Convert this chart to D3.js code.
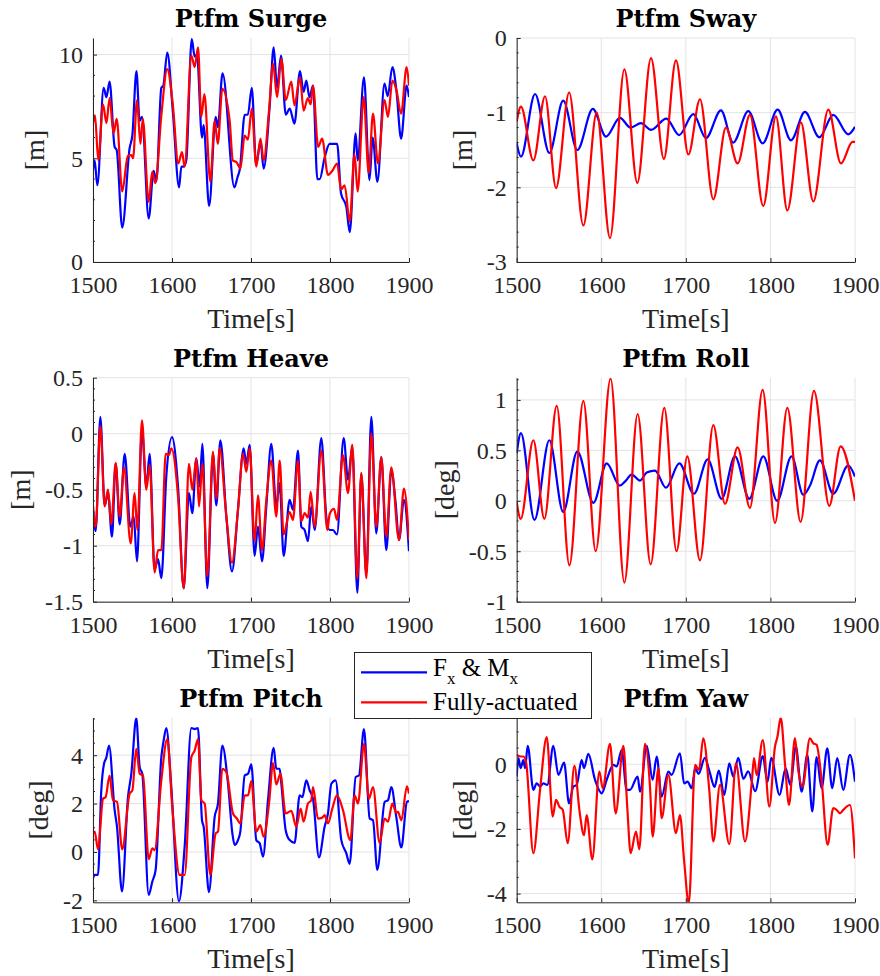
<!DOCTYPE html>
<html>
<head>
<meta charset="utf-8">
<script src="https://cdnjs.cloudflare.com/ajax/libs/d3/7.8.5/d3.min.js"></script>
<style>
body { margin: 0; background: #fff; }
</style>
</head>
<body>
<script>
// time axis ticks, shared by all panels
var xTicks = [1500, 1600, 1700, 1800, 1900];

// values: [time, value], F_x & M_x (blue) and fully-actuated (red)
var surgeFx = [[1500,4.43],[1502,4.9],[1505.5,3.7],[1513.5,8.4],[1517,7.95],[1521,8.7],[1527.4,5.55],[1530,5.4],[1537,1.66],[1546.4,5.5],[1549.8,6.1],[1555,9.2],[1559,6.8],[1562,7.0],[1570.5,2.1],[1576.8,4.4],[1580.2,3.9],[1586.5,8.4],[1589,8.5],[1594,10.1],[1601,7.3],[1609,3.6],[1611.8,4.6],[1614.8,4.6],[1618.1,4.9],[1625,10.75],[1628.7,9.9],[1631.6,10.0],[1638,6.0],[1640,6.6],[1647,2.7],[1655.3,7.0],[1658,6.5],[1664,9.1],[1679,3.6],[1683,4.1],[1686,4.5],[1692,7.1],[1696,7.1],[1701,8.4],[1706.5,4.7],[1712,5.8],[1716,4.5],[1723.6,7.5],[1728.7,10.35],[1733,8.4],[1738,9.95],[1744,7.1],[1749,7.4],[1755,6.67],[1762,9.2],[1766.6,8.2],[1770,8.75],[1774,7.95],[1778.5,8.5],[1784,4.0],[1787,4.0],[1793,5.0],[1799.5,5.7],[1809,5.7],[1814,3.3],[1820.6,2.67],[1825,1.44],[1832.5,6.2],[1835,4.9],[1843,8.9],[1850,3.95],[1854,6.0],[1860,3.87],[1869,8.6],[1873,8.0],[1879,9.4],[1884,8.3],[1890,5.95],[1897,8.5],[1900,7.95]];
var surgeFull = [[1500,6.67],[1502.5,7.07],[1506.7,4.9],[1512.7,7.6],[1517,6.7],[1521,7.9],[1526,6.2],[1530,6.9],[1537,3.4],[1544,5.1],[1548.5,5.15],[1550.7,5.0],[1555.7,7.8],[1560,5.7],[1563,6.9],[1570.5,2.9],[1575,4.35],[1579,3.8],[1586.5,7.07],[1594,9.3],[1601,7.6],[1608,4.75],[1612.6,5.3],[1616,4.6],[1624.5,9.95],[1628.7,9.4],[1633,10.35],[1637,7.0],[1641,8.1],[1648.5,3.87],[1654,6.8],[1658,5.7],[1663.7,8.35],[1673,6.8],[1677,4.9],[1682,4.8],[1686.5,4.5],[1692,6.1],[1696,5.9],[1701,7.4],[1706.7,4.6],[1712,5.95],[1716,4.9],[1722.8,7.3],[1728,9.55],[1733,7.95],[1738.4,9.8],[1744,7.8],[1751,8.7],[1755,7.55],[1762,8.9],[1766.6,7.3],[1772,7.9],[1775.5,7.6],[1778.5,8.5],[1785,5.55],[1790,5.95],[1797.4,4.2],[1803,4.4],[1809,4.75],[1814,3.5],[1818.5,3.7],[1825,1.95],[1831,5.2],[1835,3.4],[1842.6,7.95],[1849,4.3],[1854.4,7.15],[1860.7,4.75],[1869,7.8],[1873.4,7.0],[1879,8.75],[1884,8.3],[1890,7.15],[1897,9.4],[1900,8.5]];

var swayFx = [[1500,-1.41],[1505,-1.59],[1521.7,-0.75],[1538.6,-1.54],[1555,-0.84],[1571.7,-1.5],[1590,-0.95],[1605.6,-1.32],[1622,-1.07],[1634.7,-1.2],[1647,-1.14],[1658.8,-1.23],[1677,-1.08],[1692,-1.3],[1708.8,-1.02],[1723.8,-1.34],[1741.5,-0.97],[1756,-1.4],[1773.8,-0.98],[1790.8,-1.41],[1808.5,-0.96],[1824.3,-1.37],[1840.8,-0.99],[1857.8,-1.33],[1874.3,-1.03],[1892,-1.29],[1900,-1.19]];
var swayFull = [[1500,-1.12],[1505,-0.92],[1519.7,-1.64],[1533.5,-0.78],[1546.5,-2.01],[1562,-0.73],[1578.8,-2.51],[1594.6,-1.0],[1610.3,-2.68],[1627.3,-0.42],[1642.6,-1.94],[1658.8,-0.27],[1674,-1.62],[1688.3,-0.3],[1703,-1.56],[1716.7,-0.82],[1732.5,-2.16],[1747.4,-1.2],[1761.2,-1.68],[1775.8,-1.03],[1791.5,-2.25],[1806.5,-1.05],[1820,-2.31],[1836,-1.13],[1850.7,-2.19],[1868.4,-0.96],[1883.4,-1.68],[1897,-1.39],[1900,-1.39]];

var heaveFx = [[1500,-0.7],[1503.4,-0.87],[1509.3,0.15],[1514.8,-0.64],[1519,-0.53],[1524,-0.92],[1528.7,-0.27],[1533.8,-0.81],[1540.1,-0.18],[1547.3,-0.83],[1551.5,-0.74],[1555.7,-1.14],[1562,0.03],[1567.5,-0.47],[1571.7,-0.18],[1578,-1.21],[1582.3,-1.12],[1586.5,-1.29],[1592.8,-0.38],[1600,-0.03],[1607.6,-0.47],[1614.8,-1.38],[1621.5,-0.53],[1625.7,-0.71],[1630.8,-0.22],[1635,-0.47],[1638.4,-0.09],[1644.7,-1.38],[1651.9,-0.18],[1656.1,-0.64],[1661.2,-0.06],[1668.8,-0.74],[1675.9,-1.23],[1683.5,-0.68],[1690.7,-0.13],[1694.1,-0.27],[1698.3,-0.1],[1704.6,-1.09],[1708.8,-0.83],[1713.9,-1.14],[1719.4,-0.65],[1725.7,-0.09],[1732,-0.65],[1736.3,-0.44],[1741.3,-1.09],[1748.9,-0.59],[1753.1,-0.68],[1759.5,-0.15],[1763.7,-0.83],[1767.9,-0.86],[1772.1,-0.96],[1776.3,-0.65],[1780.6,-0.86],[1789,-0.04],[1795.3,-0.74],[1799.5,-0.86],[1803.8,-0.86],[1808.8,-0.9],[1817.3,-0.04],[1822.8,-0.41],[1828.2,-0.12],[1834.6,-1.42],[1839.6,-0.36],[1846,-1.25],[1852.3,0.15],[1858.6,-0.89],[1864.9,-0.21],[1871.3,-1.04],[1877.6,-0.33],[1883.1,-0.62],[1887.3,-0.95],[1893.6,-0.59],[1900,-1.05]];
var heaveFull = [[1500,-0.64],[1503.4,-0.83],[1509.3,0.07],[1514.8,-0.65],[1519,-0.5],[1523.2,-0.81],[1528.7,-0.26],[1533.8,-0.74],[1539.2,-0.3],[1547.7,-0.98],[1552.7,-0.53],[1556.1,-0.86],[1562,0.12],[1567.5,-0.5],[1571.7,-0.28],[1578,-1.24],[1582.3,-1.04],[1586.5,-1.04],[1592,-0.18],[1596.2,-0.19],[1599.1,-0.13],[1607.6,-0.56],[1614.8,-1.38],[1621.5,-0.27],[1625.7,-0.5],[1630.8,-0.22],[1634.2,-0.65],[1638.4,-0.27],[1644.7,-1.27],[1651.9,-0.16],[1656.1,-0.58],[1660.3,-0.13],[1668.8,-0.74],[1675.9,-1.15],[1683.5,-0.68],[1689.9,-0.18],[1694.1,-0.34],[1698.3,-0.13],[1704.6,-0.96],[1708.8,-0.55],[1713.9,-1.04],[1719.4,-0.59],[1725.7,-0.24],[1732,-0.74],[1736.3,-0.24],[1741.3,-0.9],[1748.9,-0.7],[1753.1,-0.77],[1759.5,-0.24],[1763.7,-0.78],[1767.9,-0.71],[1772.1,-0.75],[1775.5,-0.52],[1780.6,-0.83],[1789,-0.15],[1796.6,-0.86],[1799.5,-0.72],[1805,-0.67],[1808.8,-0.77],[1816.4,-0.19],[1822.8,-0.53],[1828.2,-0.1],[1834.6,-1.29],[1839.6,-0.35],[1846,-1.29],[1852.3,0.0],[1858.6,-0.83],[1864.9,-0.21],[1871.3,-0.92],[1877.6,-0.3],[1887.3,-0.95],[1893.6,-0.49],[1900,-0.95]];

var rollFx = [[1500,0.47],[1505,0.67],[1521,-0.19],[1538.6,0.6],[1555,-0.11],[1571.7,0.49],[1590.6,-0.02],[1606.4,0.37],[1622,0.15],[1628,0.19],[1636,0.26],[1645.8,0.2],[1653.7,0.28],[1663.5,0.3],[1676.5,0.13],[1692.3,0.37],[1709.6,0.07],[1725.8,0.41],[1742.3,0.02],[1758,0.44],[1775,0.02],[1791.6,0.44],[1808,0.0],[1825,0.44],[1838.8,0.06],[1846.7,0.15],[1858.5,0.4],[1874.3,0.07],[1892,0.35],[1900,0.24]];
var rollFull = [[1500,-0.01],[1504.7,-0.18],[1519.7,0.6],[1532.7,-0.18],[1547.3,0.94],[1562.3,-0.64],[1578.8,0.99],[1593.4,-0.5],[1611,1.21],[1627.3,-0.81],[1643,0.86],[1658.4,-0.63],[1674.5,0.92],[1689,-0.5],[1701.7,0.44],[1716.7,-0.59],[1732.5,0.75],[1746.3,-0.03],[1761.2,0.53],[1775.8,-0.07],[1790.8,1.1],[1805.4,-0.22],[1820,0.92],[1835.7,-0.21],[1851.5,1.09],[1869.6,-0.05],[1883,0.54],[1900,0.0]];

var pitchFx = [[1500,-1.08],[1502.1,-0.95],[1506.3,-0.95],[1510.5,2.55],[1513.9,3.64],[1516.9,3.9],[1520.3,4.4],[1527.4,1.73],[1530.4,1.04],[1536.7,-1.63],[1544.3,2.27],[1548.5,3.23],[1554.8,5.53],[1559.1,3.5],[1562.4,3.23],[1570.5,-1.77],[1575.1,-1.22],[1579.3,-0.74],[1586.5,3.92],[1589.4,4.6],[1592.8,5.12],[1599.1,2.68],[1608.8,-2.04],[1616,0.22],[1624.5,5.12],[1628.7,5.08],[1632.9,5.12],[1638,1.31],[1640.1,1.04],[1646.8,-1.66],[1654,1.45],[1658.2,2.0],[1663.7,4.4],[1670.9,2.82],[1676.4,0.77],[1679.3,0.29],[1683.5,0.49],[1686.5,0.84],[1692,3.16],[1696.2,3.23],[1700.4,3.62],[1706.7,0.49],[1711,0.36],[1715.2,-0.19],[1721.5,2.14],[1728.7,4.3],[1732,3.44],[1736.3,3.44],[1738.4,2.82],[1743.9,0.9],[1748.9,0.49],[1755.2,0.38],[1761.6,2.34],[1765,2.27],[1770,2.96],[1774.2,2.55],[1778.5,2.2],[1786,-0.22],[1793.2,1.04],[1797.4,1.59],[1801.7,2.82],[1807.1,2.96],[1814.3,0.49],[1820.6,-0.05],[1824.9,-0.49],[1832.5,3.1],[1836.7,3.16],[1843,5.08],[1850.2,1.38],[1854.4,1.31],[1859.9,-0.74],[1869.2,2.07],[1873.4,2.14],[1877.6,2.68],[1883.9,1.45],[1890.3,0.19],[1897.4,2.07],[1900,2.1]];
var pitchFull = [[1500,0.77],[1502.1,0.84],[1506.3,0.11],[1512.7,2.2],[1516,2.27],[1521,3.16],[1525.3,2.14],[1530.4,2.07],[1537,0.11],[1546.4,2.41],[1549.8,2.55],[1554.8,4.26],[1559.1,3.23],[1563.3,3.16],[1570.5,-0.3],[1575.1,0.15],[1578,0.08],[1586.5,2.96],[1594,4.67],[1600.3,1.86],[1609.7,-0.95],[1616,-0.95],[1624.5,3.92],[1628.7,4.19],[1632.9,4.67],[1637.2,2.14],[1641.3,2.0],[1648.5,-0.95],[1655.3,0.77],[1658.2,0.84],[1663.7,3.44],[1668.8,3.3],[1677.2,1.59],[1682.2,1.38],[1686.5,1.18],[1692,2.34],[1696.2,2.34],[1700.4,2.93],[1706.7,0.84],[1711.8,1.11],[1716,0.63],[1722.8,2.0],[1727.9,3.67],[1732,2.79],[1737.2,3.23],[1743.9,1.59],[1751,1.7],[1757.3,1.04],[1762.8,1.79],[1766.6,1.25],[1772.1,2.0],[1776.3,2.14],[1778.5,2.68],[1784.8,1.38],[1790.3,1.42],[1793.2,1.52],[1797.4,1.18],[1802.9,1.79],[1808.8,2.34],[1816.4,1.73],[1825.7,0.49],[1831.2,2.34],[1835.4,2.0],[1843,4.47],[1849.3,2.2],[1854.4,2.68],[1862.8,0.38],[1869.2,1.38],[1873.4,1.25],[1878.9,2.0],[1883.9,1.62],[1886,1.66],[1890.3,1.31],[1897.4,2.71],[1900,2.41]];

var yawFx = [[1500,-0.38],[1502,0.19],[1504.7,-0.12],[1507.9,0.13],[1509.9,-0.12],[1513,0.57],[1519.7,-0.79],[1523.6,-0.59],[1527.6,-0.69],[1531.5,-0.59],[1536.2,-0.64],[1543.3,0.57],[1549.3,-0.33],[1556,0.05],[1561.9,-1.21],[1567,-0.69],[1570.9,-0.64],[1576.8,0.13],[1579.6,-0.12],[1584.7,0.32],[1592.6,-0.48],[1600.5,-0.9],[1606.4,-0.48],[1614.3,-0.02],[1618.2,-0.07],[1624.1,0.44],[1630,-0.79],[1634,-0.79],[1643,-0.38],[1645.8,-0.85],[1653.7,0.57],[1660.8,-0.48],[1665.5,0.24],[1671.4,-1.0],[1679.3,-0.23],[1683.2,-0.33],[1693,0.34],[1698,-0.59],[1702,-0.54],[1707,-0.74],[1711,-0.13],[1715,-0.3],[1722.5,0.2],[1727.7,-0.2],[1734,-0.7],[1739,-0.2],[1745.4,-0.95],[1751.4,0.03],[1756.1,-0.38],[1762,0.2],[1768,-0.45],[1773.8,-0.22],[1782,-0.83],[1791,0.25],[1796.5,-0.55],[1801,0.2],[1810.8,-0.95],[1818,-0.13],[1823.6,-0.64],[1830,0.55],[1836.9,-0.85],[1843.6,0.29],[1849.5,-1.46],[1854.6,0.22],[1860.5,-0.74],[1867.2,0.49],[1873.1,-0.74],[1879,0.19],[1886.1,-0.79],[1894,0.29],[1900,-0.54]];
var yawFull = [[1500,0.29],[1504.7,0.24],[1507.9,0.24],[1511,0.08],[1519.7,-2.75],[1527.6,-0.79],[1535.5,0.84],[1542.6,-1.62],[1546.5,-1.1],[1550.4,-1.31],[1554.4,-1.41],[1560.3,-2.44],[1568.2,-0.05],[1574.1,-1.41],[1579.6,-2.19],[1582.7,-1.57],[1589.4,-2.94],[1597.7,-0.23],[1601.7,-0.74],[1610.3,0.63],[1617,-1.52],[1626.1,0.57],[1630.8,-1.36],[1634.7,-2.75],[1641,-2.08],[1645,-2.63],[1651.7,0.63],[1657.6,-0.69],[1660.8,-2.24],[1667.5,-0.12],[1671.4,-1.67],[1679.3,-0.33],[1688.3,-2.13],[1693,-1.57],[1698,-3.0],[1703.5,-4.3],[1711,-0.02],[1715.5,-0.18],[1720.6,0.8],[1727.7,-0.8],[1732.5,-2.39],[1740.4,-0.64],[1751.4,-2.47],[1759.3,0.03],[1770,-2.39],[1778,-0.54],[1780.6,0.19],[1783.7,-0.33],[1791,0.75],[1798.7,-1.31],[1805.4,0.55],[1808.2,0.84],[1812.2,1.44],[1817.3,-0.02],[1822,-1.26],[1829,0.81],[1832.9,-0.18],[1838,-0.69],[1846.7,0.8],[1850.7,0.65],[1854.6,0.6],[1860.5,-0.48],[1867.6,-2.49],[1874.3,-1.36],[1878.2,-1.41],[1882.2,-1.52],[1886.1,-1.41],[1894,-1.26],[1900,-2.91]];

var seriesColours = ["#0000ff", "#ff0000"];

var panels = [
	{title: "Ptfm Surge", unit: "[m]",   series: [surgeFx, surgeFull], yDomain: [0, 10.8],     yTicks: [0, 5, 10],               minor: 1,   col: 0, row: 0},
	{title: "Ptfm Sway",  unit: "[m]",   series: [swayFx, swayFull],   yDomain: [-3, 0],       yTicks: [-3, -2, -1, 0],          minor: 0.2, col: 1, row: 0},
	{title: "Ptfm Heave", unit: "[m]",   series: [heaveFx, heaveFull], yDomain: [-1.5, 0.5],   yTicks: [-1.5, -1, -0.5, 0, 0.5], minor: 0.1, col: 0, row: 1},
	{title: "Ptfm Roll",  unit: "[deg]", series: [rollFx, rollFull],   yDomain: [-1, 1.22],    yTicks: [-1, -0.5, 0, 0.5, 1],    minor: 0.1, col: 1, row: 1},
	{title: "Ptfm Pitch", unit: "[deg]", series: [pitchFx, pitchFull], yDomain: [-2.08, 5.55], yTicks: [-2, 0, 2, 4],            minor: 0.5, col: 0, row: 2},
	{title: "Ptfm Yaw",   unit: "[deg]", series: [yawFx, yawFull],     yDomain: [-4.27, 1.44], yTicks: [-4, -2, 0],              minor: 0.5, col: 1, row: 2}
];

// plot box positions
var cols = [{left: 93, right: 409}, {left: 516.7, right: 855}];
var rows = [{top: 38, bottom: 262}, {top: 377.7, bottom: 601.7}, {top: 717.7, bottom: 902.3}];

var axisColour = "#262626";
var gridColour = "#e3e3e3";
var serif = "'Liberation Serif', 'Times New Roman', serif";

var svg = d3.select("body").append("svg")
	.attr("width", 880)
	.attr("height", 976)
	.style("background", "#fff");

panels.forEach(function(p, i) {
	var c = cols[p.col], r = rows[p.row];

	var x = d3.scaleLinear().domain([1500, 1900]).range([c.left, c.right]);
	var y = d3.scaleLinear().domain(p.yDomain).range([r.bottom, r.top]);

	var g = svg.append("g");

	// grid
	g.selectAll(".vgrid").data(xTicks).enter().append("line")
		.attr("x1", function(d) { return x(d); })
		.attr("x2", function(d) { return x(d); })
		.attr("y1", r.top).attr("y2", r.bottom)
		.attr("stroke", gridColour).attr("stroke-width", 1);
	g.selectAll(".hgrid").data(p.yTicks).enter().append("line")
		.attr("x1", c.left).attr("x2", c.right)
		.attr("y1", function(d) { return y(d); })
		.attr("y2", function(d) { return y(d); })
		.attr("stroke", gridColour).attr("stroke-width", 1);

	// clip to the axes box
	svg.append("clipPath").attr("id", "clip" + i)
		.append("rect")
		.attr("x", c.left).attr("y", r.top)
		.attr("width", c.right - c.left).attr("height", r.bottom - r.top);

	var line = d3.line()
		.x(function(d) { return x(d[0]); })
		.y(function(d) { return y(d[1]); })
		.curve(d3.curveMonotoneX);

	g.append("g").attr("clip-path", "url(#clip" + i + ")")
		.selectAll("path").data(p.series).enter().append("path")
		.attr("d", line)
		.attr("fill", "none")
		.attr("stroke", function(d, k) { return seriesColours[k]; })
		.attr("stroke-width", 2.2)
		.attr("stroke-linejoin", "round");

	// axes
	var xAxis = g.append("g")
		.attr("transform", "translate(0," + r.bottom + ")")
		.call(d3.axisBottom(x).tickValues(xTicks).tickSize(-4).tickSizeOuter(0).tickFormat(function(d) { return String(d); }));
	var yAxis = g.append("g")
		.attr("transform", "translate(" + c.left + ",0)")
		.call(d3.axisLeft(y).tickValues(p.yTicks).tickSize(-4).tickSizeOuter(0).tickFormat(function(d) { return String(d); }));

	[xAxis, yAxis].forEach(function(a) {
		a.select(".domain").attr("stroke", axisColour);
		a.selectAll(".tick line").attr("stroke", axisColour);
		a.selectAll(".tick text")
			.attr("fill", axisColour)
			.style("font-family", serif)
			.style("font-size", "24px");
	});
	xAxis.selectAll(".tick text").attr("y", 31).attr("dy", 0);
	yAxis.selectAll(".tick text").attr("x", -10).attr("dy", "0.33em");

	// minor ticks on y
	var minorTicks = d3.range(Math.ceil(p.yDomain[0] / p.minor), Math.floor(p.yDomain[1] / p.minor) + 1)
		.map(function(k) { return +(k * p.minor).toFixed(4); })
		.filter(function(v) { return p.yTicks.indexOf(v) < 0; });
	g.selectAll(".minor").data(minorTicks).enter().append("line")
		.attr("x1", c.left).attr("x2", c.left + 2)
		.attr("y1", function(d) { return y(d); })
		.attr("y2", function(d) { return y(d); })
		.attr("stroke", axisColour);

	// title
	g.append("text")
		.attr("x", (c.left + c.right) / 2)
		.attr("y", r.top - 11)
		.attr("text-anchor", "middle")
		.style("font-family", "'DejaVu Serif', serif")
		.style("font-weight", "bold")
		.style("font-size", "24px")
		.attr("fill", "#000")
		.text(p.title);

	// x label
	g.append("text")
		.attr("x", (c.left + c.right) / 2)
		.attr("y", r.bottom + 66)
		.attr("text-anchor", "middle")
		.style("font-family", serif)
		.style("font-size", "28px")
		.attr("fill", axisColour)
		.text("Time[s]");

	// y label, placed left of the widest tick label
	var maxW = 0;
	yAxis.selectAll(".tick text").each(function() {
		maxW = Math.max(maxW, this.getComputedTextLength());
	});
	var lx = c.left - 10 - maxW - 15;
	g.append("text")
		.attr("transform", "translate(" + lx + "," + ((r.top + r.bottom) / 2) + ") rotate(-90)")
		.attr("text-anchor", "middle")
		.style("font-family", serif)
		.style("font-size", "28px")
		.attr("fill", axisColour)
		.text(p.unit);
});

// legend
var legend = svg.append("g");
legend.append("rect")
	.attr("x", 354.5).attr("y", 652.5)
	.attr("width", 237).attr("height", 66)
	.attr("fill", "#fff")
	.attr("stroke", axisColour);

var legendRows = [672.3, 702.3];
legend.selectAll(".swatch").data(seriesColours).enter().append("line")
	.attr("x1", 361).attr("x2", 427)
	.attr("y1", function(d, k) { return legendRows[k]; })
	.attr("y2", function(d, k) { return legendRows[k]; })
	.attr("stroke", function(d) { return d; })
	.attr("stroke-width", 2.2);

var t1 = legend.append("text")
	.attr("x", 433).attr("y", 676)
	.style("font-family", serif)
	.style("font-size", "25px")
	.attr("fill", "#000");
t1.append("tspan").text("F");
t1.append("tspan").attr("dy", 8).style("font-size", "17px").text("x");
t1.append("tspan").attr("dy", -8).text(" & M");
t1.append("tspan").attr("dy", 8).style("font-size", "17px").text("x");

legend.append("text")
	.attr("x", 433).attr("y", 710)
	.style("font-family", serif)
	.style("font-size", "25px")
	.attr("fill", "#000")
	.text("Fully-actuated");
</script>
</body>
</html>
